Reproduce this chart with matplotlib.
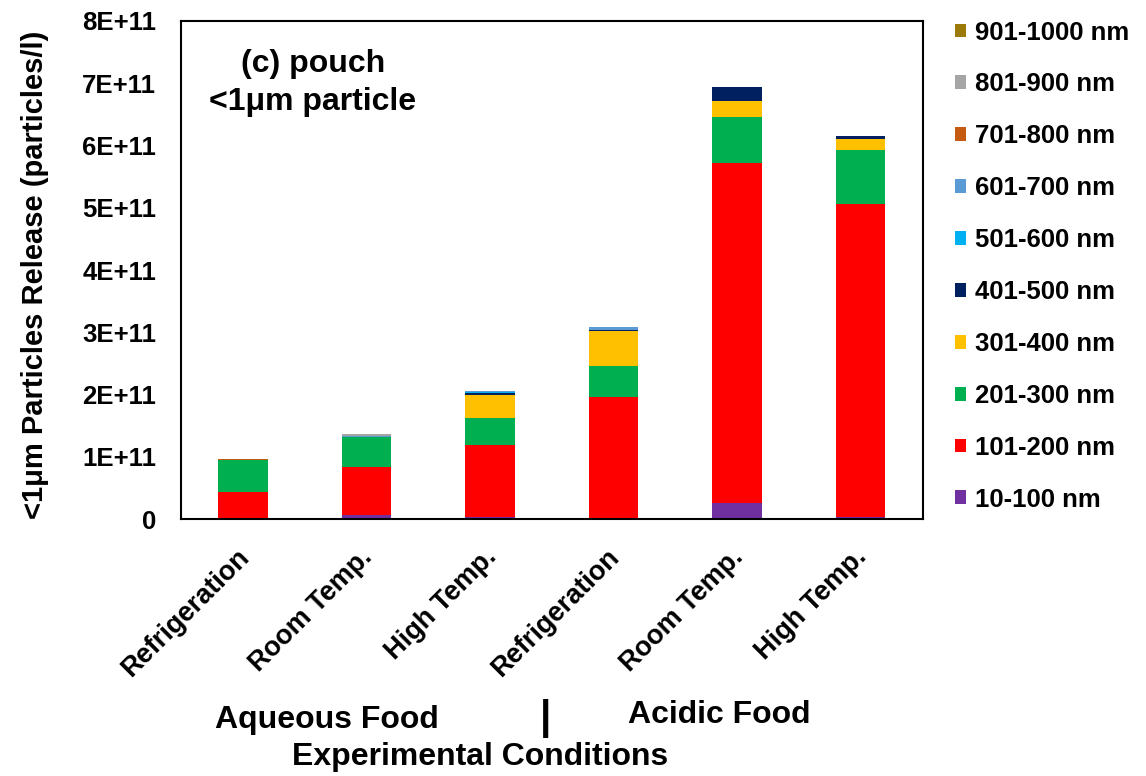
import numpy as np
import matplotlib.pyplot as plt
from matplotlib.transforms import ScaledTranslation

plt.rcParams['font.family'] = ['Liberation Sans', 'DejaVu Sans']
plt.rcParams['font.weight'] = 'bold'
plt.rcParams['axes.labelweight'] = 'bold'

conditions = ['Refrigeration', 'Room Temp.', 'High Temp.',
              'Refrigeration', 'Room Temp.', 'High Temp.']
size_bins = ['10-100 nm', '101-200 nm', '201-300 nm', '301-400 nm', '401-500 nm',
             '501-600 nm', '601-700 nm', '701-800 nm', '801-900 nm', '901-1000 nm']
colors = ['#7030A0', '#FF0000', '#00B050', '#FFC000', '#002060',
          '#00B0F0', '#5B9BD5', '#C55A11', '#A5A5A5', '#9C7A0A']

# particles/l, one list per size bin (values in units of 1E+11)
p10_100 = [0.01, 0.07, 0.04, 0.01, 0.26, 0.03]
p101_200 = [0.42, 0.76, 1.15, 1.95, 5.46, 5.03]
p201_300 = [0.52, 0.49, 0.43, 0.50, 0.74, 0.87]
p301_400 = [0.00, 0.00, 0.38, 0.56, 0.25, 0.17]
p401_500 = [0.00, 0.00, 0.03, 0.01, 0.23, 0.05]
p501_600 = [0.00, 0.00, 0.01, 0.01, 0.00, 0.00]
p601_700 = [0.00, 0.02, 0.02, 0.05, 0.00, 0.00]
p701_800 = [0.01, 0.00, 0.00, 0.00, 0.00, 0.00]
p801_900 = [0.01, 0.02, 0.00, 0.00, 0.00, 0.00]
p901_1000 = [0.00, 0.00, 0.00, 0.00, 0.00, 0.00]

series = [p10_100, p101_200, p201_300, p301_400, p401_500,
          p501_600, p601_700, p701_800, p801_900, p901_1000]

fig = plt.figure(figsize=(11.46, 7.76), dpi=100)
ax = fig.add_axes([0.158, 0.331, 0.647, 0.642])

x = np.arange(len(conditions))
bottom = np.zeros(len(conditions))
for vals, lab, c in zip(series, size_bins, colors):
    v = np.array(vals) * 1e11
    ax.bar(x, v, 0.4, bottom=bottom, color=c, label=lab)
    bottom += v

ax.set_xlim(-0.5, 5.5)
ax.set_ylim(0, 8e11)
ax.set_yticks(np.arange(0, 9) * 1e11)
ax.set_yticklabels(['0'] + ['%dE+11' % i for i in range(1, 9)], fontsize=18.5)
ax.set_xticks(x)
ax.set_xticklabels(conditions, rotation=45, ha='right', rotation_mode='anchor', fontsize=19.5)
ax.tick_params(axis='y', length=0, pad=18)
ax.tick_params(axis='x', length=0, pad=18)
shift = ScaledTranslation(-5 / 72, 0, fig.dpi_scale_trans)
for t in ax.get_xticklabels():
    t.set_transform(t.get_transform() + shift)
for s in ax.spines.values():
    s.set_linewidth(1.5)

ax.set_ylabel('<1μm Particles Release (particles/l)', fontsize=21)
ax.yaxis.set_label_coords(-0.178, 0.49)
ax.text(0.178, 0.943, '(c) pouch\n<1μm particle', transform=ax.transAxes,
        fontsize=23, va='top', ha='center', multialignment='center', linespacing=1.33)

h, l = ax.get_legend_handles_labels()
fig.legend(h[::-1], l[::-1], loc='upper left', bbox_to_anchor=(0.822, 0.99),
           frameon=False, fontsize=18.5, handlelength=0.45, handleheight=0.45,
           handletextpad=0.35, labelspacing=1.085, borderpad=0)

fig.text(0.285, 0.072, 'Aqueous Food', fontsize=23, ha='center', va='center')
fig.text(0.476, 0.074, '|', fontsize=29, ha='center', va='center')
fig.text(0.628, 0.078, 'Acidic Food', fontsize=23, ha='center', va='center')
fig.text(0.419, 0.025, 'Experimental Conditions', fontsize=23, ha='center', va='center')

fig.savefig('out.png', dpi=100)
